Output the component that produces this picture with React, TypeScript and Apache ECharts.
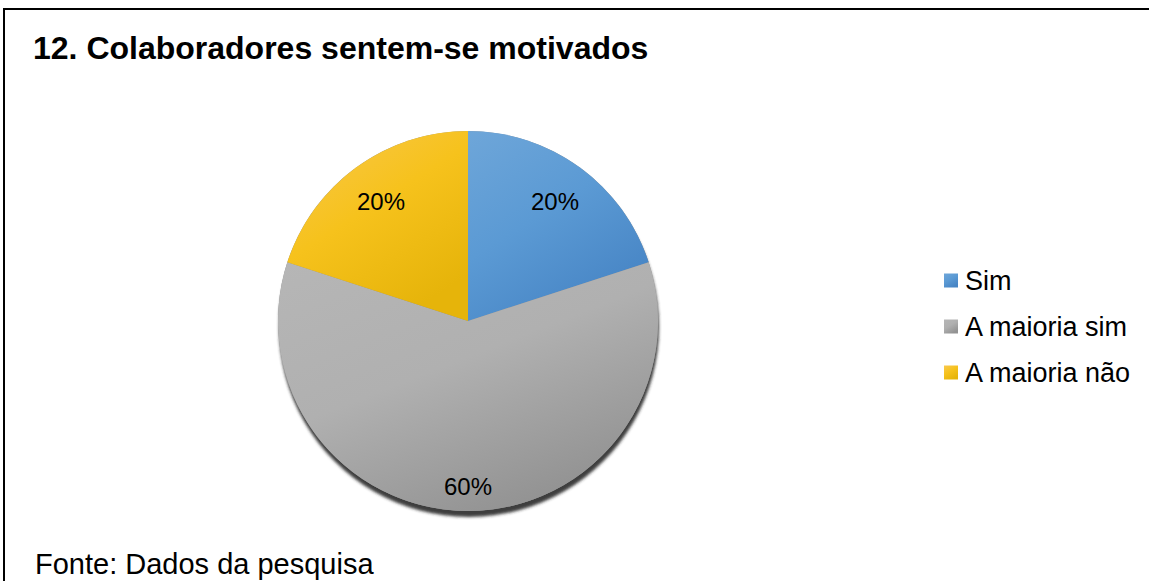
import React, { useEffect, useRef } from "react";
import * as echarts from "echarts";

const titleText = "12. Colaboradores sentem-se motivados";
const sourceText = "Fonte: Dados da pesquisa";
const categories = ["Sim", "A maioria sim", "A maioria não"];
const values = [20, 60, 20];
const total = [100];
const colorStops = [
  ["#6ea6d9", "#5b9ad4", "#4785c5"],
  ["#b6b6b6", "#b0b0b0", "#939393"],
  ["#f9c84f", "#f6c21c", "#e6b40a"],
];

export default function App() {
  const ref = useRef<HTMLDivElement>(null);
  useEffect(() => {
    const chart = echarts.init(ref.current!, undefined, { renderer: "svg" });
    const font = "'Liberation Sans', Arial, sans-serif";
    const grad = (i: number) =>
      new echarts.graphic.LinearGradient(0, 0, 0.6, 1, [
        { offset: 0, color: colorStops[i][0] },
        { offset: 0.5, color: colorStops[i][1] },
        { offset: 1, color: colorStops[i][2] },
      ]);
    const data = categories.map((name, i) => ({
      name,
      value: values[i],
      itemStyle: { color: grad(i) },
    }));
    const labelData = categories.map((name, i) => ({
      name,
      value: values[i],
    }));
    const center = [468, 321];
    const R = 190;
    chart.setOption({
      animation: false,
      backgroundColor: "#ffffff",
      title: [
        {
          text: titleText,
          left: 33,
          top: 32,
          padding: 0,
          textStyle: { fontFamily: font, fontSize: 32, fontWeight: "bold", color: "#000" },
        },
        {
          text: sourceText,
          left: 35,
          top: 549,
          padding: 0,
          textStyle: { fontFamily: font, fontSize: 29, fontWeight: "normal", color: "#000" },
        },
      ],
      legend: {
        orient: "vertical",
        left: 944,
        top: 267,
        padding: 0,
        itemWidth: 14,
        itemHeight: 14,
        itemGap: 19,
        icon: "rect",
        selectedMode: false,
        data: categories,
        textStyle: { fontFamily: font, fontSize: 27, color: "#000", padding: [0, 0, 0, 2] },
      },
      graphic: [
        {
          type: "rect",
          shape: { x: 4, y: 9, width: 1200, height: 700 },
          style: { fill: "none", stroke: "#000", lineWidth: 2 },
          silent: true,
          z: 100,
        },
      ],
      series: [
        {
          type: "pie",
          center,
          radius: [0, R],
          silent: true,
          label: { show: false },
          labelLine: { show: false },
          itemStyle: {
            color: "#8f8f8f",
            shadowColor: "rgba(40,40,40,0.9)",
            shadowBlur: 3,
            shadowOffsetX: 1,
            shadowOffsetY: 6,
          },
          emphasis: { disabled: true },
          data: total.map((v) => ({ name: "", value: v })),
          z: 1,
        },
        {
          type: "pie",
          center,
          radius: [0, R],
          startAngle: 90,
          clockwise: true,
          label: { show: false },
          labelLine: { show: false },
          itemStyle: { borderWidth: 0 },
          emphasis: { disabled: true },
          data,
          z: 2,
        },
        {
          type: "pie",
          center,
          radius: [100, R],
          startAngle: 90,
          clockwise: true,
          silent: true,
          itemStyle: { color: "rgba(0,0,0,0)", borderWidth: 0 },
          label: {
            show: true,
            position: "inside",
            formatter: "{d}%",
            fontFamily: font,
            fontSize: 24,
            color: "#000",
          },
          labelLine: { show: false },
          labelLayout: (p: any) => (p.dataIndex === 1 ? { dy: 17 } : {}),
          emphasis: { disabled: true },
          data: labelData,
          z: 3,
        },
      ],
    });
    return () => chart.dispose();
  }, []);
  return (
    <div
      ref={ref}
      style={{ position: "absolute", left: 0, top: 0, width: 1149, height: 581 }}
    />
  );
}
